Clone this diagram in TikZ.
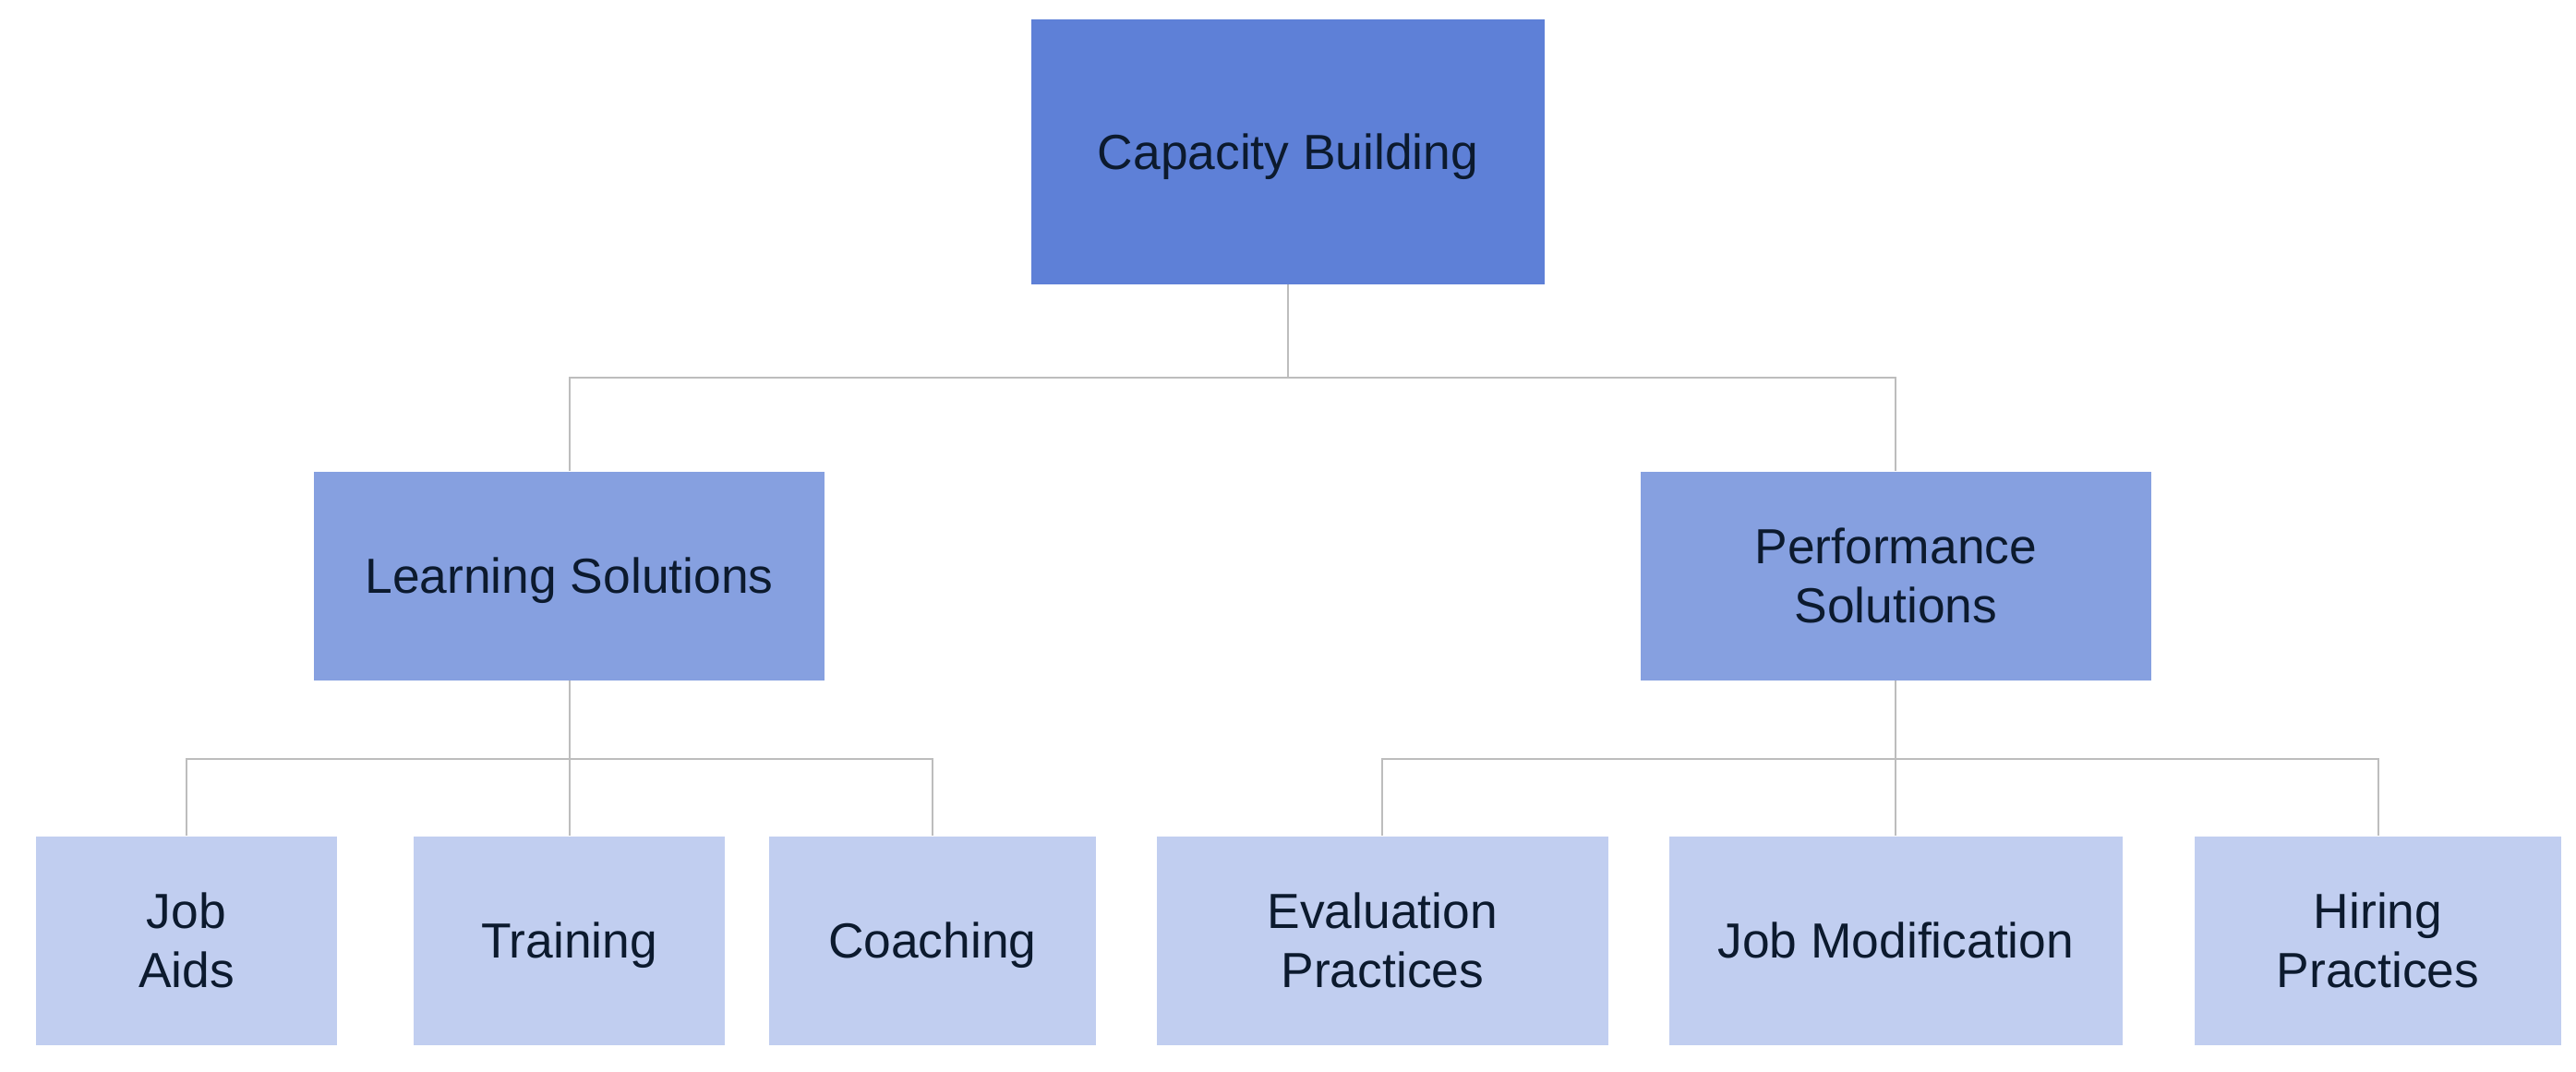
\documentclass[tikz,border=0pt]{standalone}
\usepackage{fontspec}
\setmainfont{Liberation Sans}
\usetikzlibrary{positioning}
\definecolor{cRoot}{HTML}{5E80D7}
\definecolor{cMid}{HTML}{86A0E0}
\definecolor{cLeaf}{HTML}{C1CEF0}
\definecolor{cText}{HTML}{0C1A2E}
\definecolor{cLine}{HTML}{BDBDBD}
\begin{document}
\begin{tikzpicture}[x=1pt,y=-1pt,
  box/.style={rectangle, inner sep=0pt, text=cText, align=center,
    font=\fontsize{30}{36}\selectfont},
  rootbox/.style={box, fill=cRoot, minimum width=312pt, minimum height=161pt},
  midbox/.style={box, fill=cMid, minimum width=311pt, minimum height=127pt},
  leafbox/.style={box, fill=cLeaf, minimum height=127pt},
  lowtext/.style={text depth=0pt, text height=21pt},
  link/.style={draw=cLine, line width=1.1pt}]
\useasboundingbox (0,0) rectangle (1568,652);
\fill[white] (0,0) rectangle (1568,652);
% nodes
\node[rootbox, lowtext] (root) at (784,92.5) {Capacity Building};
\node[midbox, lowtext] (learn) at (346.5,350.5) {Learning Solutions};
\node[midbox] (perf) at (1154,350.5) {Performance\\Solutions};
\node[leafbox, minimum width=183pt] (jobaids) at (113.5,572.5) {Job\\Aids};
\node[leafbox, lowtext, minimum width=189pt] (train) at (346.5,572.5) {Training};
\node[leafbox, lowtext, minimum width=199pt] (coach) at (567.5,572.5) {Coaching};
\node[leafbox, minimum width=275pt] (evalp) at (841.5,572.5) {Evaluation\\Practices};
\node[leafbox, lowtext, minimum width=276pt] (jobmod) at (1154,572.5) {Job Modification};
\node[leafbox, minimum width=223pt] (hiring) at (1447.5,572.5) {Hiring\\Practices};
% connectors
\coordinate (j1) at (784,230);
\coordinate (j2) at (346.5,462);
\coordinate (j3) at (1154,462);
\draw[link] (root.south) -- (j1);
\draw[link] (j1) -| (learn.north);
\draw[link] (j1) -| (perf.north);
\draw[link] (learn.south) -- (train.north);
\draw[link] (j2) -| (jobaids.north);
\draw[link] (j2) -| (coach.north);
\draw[link] (perf.south) -- (jobmod.north);
\draw[link] (j3) -| (evalp.north);
\draw[link] (j3) -| (hiring.north);
\end{tikzpicture}
\end{document}
